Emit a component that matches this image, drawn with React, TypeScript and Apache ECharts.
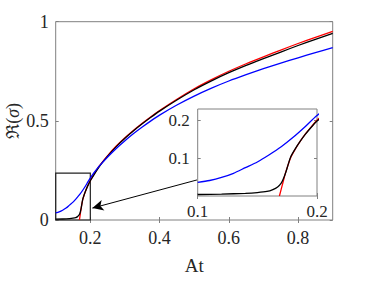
import React, { useEffect, useRef } from "react";
import * as echarts from "echarts";

const redAt = [0.1685, 0.171, 0.174, 0.178, 0.182, 0.186, 0.19, 0.195, 0.2, 0.225, 0.25, 0.275, 0.3, 0.325, 0.35, 0.375, 0.4, 0.45, 0.5, 0.55, 0.6, 0.65, 0.7, 0.75, 0.8, 0.85, 0.9];
const redVal = [0, 0.03, 0.065, 0.102, 0.125, 0.145, 0.163, 0.182, 0.2, 0.27, 0.325, 0.373, 0.415, 0.453, 0.488, 0.521, 0.552, 0.609, 0.662, 0.708, 0.75, 0.788, 0.823, 0.857, 0.89, 0.921, 0.951];

const blackAt = [0.1, 0.12, 0.14, 0.15, 0.158, 0.163, 0.167, 0.17, 0.172, 0.174, 0.176, 0.178, 0.182, 0.186, 0.19, 0.195, 0.2, 0.225, 0.25, 0.275, 0.3, 0.325, 0.35, 0.375, 0.4, 0.45, 0.5, 0.55, 0.6, 0.65, 0.7, 0.75, 0.8, 0.85, 0.9];
const blackVal = [0.004, 0.005, 0.007, 0.009, 0.012, 0.017, 0.024, 0.034, 0.047, 0.064, 0.085, 0.104, 0.126, 0.145, 0.162, 0.181, 0.198, 0.267, 0.322, 0.37, 0.412, 0.45, 0.485, 0.518, 0.549, 0.605, 0.657, 0.702, 0.743, 0.78, 0.814, 0.847, 0.88, 0.911, 0.941];

const blueAt = [0.1, 0.11, 0.12, 0.13, 0.14, 0.15, 0.16, 0.17, 0.18, 0.19, 0.2, 0.225, 0.25, 0.275, 0.3, 0.325, 0.35, 0.375, 0.4, 0.45, 0.5, 0.55, 0.6, 0.65, 0.7, 0.75, 0.8, 0.85, 0.9];
const blueVal = [0.036, 0.041, 0.049, 0.06, 0.075, 0.09, 0.109, 0.13, 0.155, 0.183, 0.213, 0.27, 0.318, 0.361, 0.4, 0.436, 0.469, 0.5, 0.529, 0.58, 0.625, 0.665, 0.701, 0.733, 0.763, 0.791, 0.818, 0.844, 0.869];

const mainXTicks = [0.2, 0.4, 0.6, 0.8];
const mainYTicks = [0, 0.5, 1];
const insetXTicks = [0.1, 0.2];
const insetYTicks = [0.1, 0.2];

const zoomBox = [[0.1, 0], [0.2, 0.236]];
const arrowFrom = [0.508, 0.202];
const arrowTo = [0.206, 0.06];

const FONT = "Liberation Serif";
const TXT = "#262626";
const AX = "#808080";

function pairs(xs: number[], ys: number[]) {
  return xs.map((x, i) => [x, ys[i]]);
}

export default function App() {
  const ref = useRef<HTMLDivElement>(null);
  useEffect(() => {
    document.body.style.margin = "0";
    const chart = echarts.init(ref.current!, null, { renderer: "svg" });
    const tickStyle = { show: true, inside: true, length: 3, lineStyle: { color: AX, width: 1 } };
    const lineSeries = (name: string, xs: number[], ys: number[], color: string, xi: number, yi: number, z: number, extra: any = {}) => ({
      type: "line",
      name,
      data: pairs(xs, ys),
      xAxisIndex: xi,
      yAxisIndex: yi,
      showSymbol: false,
      smooth: 0.25,
      clip: true,
      z,
      lineStyle: { color, width: 1.3 },
      ...extra,
    });
    const fmt = (v: number) => String(+v.toFixed(1));
    chart.setOption({
      animation: false,
      textStyle: { fontFamily: FONT },
      grid: [
        { left: 55.7, top: 21.7, right: 34.3, bottom: 72, show: true, borderColor: AX, borderWidth: 1, backgroundColor: "#fff", z: 0, containLabel: false, outerBoundsMode: "none" },
        { left: 197.7, top: 109, width: 119.3, height: 87, show: true, borderColor: AX, borderWidth: 1, backgroundColor: "#fff", z: 10, containLabel: false, outerBoundsMode: "none" },
      ],
      xAxis: [
        {
          type: "value", gridIndex: 0, min: 0.1, max: 0.9, position: "bottom",
          axisLine: { show: false }, splitLine: { show: false },
          axisTick: { ...tickStyle, customValues: mainXTicks },
          axisLabel: { customValues: mainXTicks, formatter: fmt, color: TXT, fontFamily: FONT, fontSize: 18, margin: 9 },
          name: "At", nameLocation: "middle", nameGap: 36, nameMoveOverlap: false,
          nameTextStyle: { color: TXT, fontFamily: FONT, fontSize: 19 },
        },
        {
          type: "value", gridIndex: 0, min: 0.1, max: 0.9, position: "top",
          axisLine: { show: false }, splitLine: { show: false },
          axisTick: { ...tickStyle, customValues: mainXTicks },
          axisLabel: { show: false },
        },
        {
          type: "value", gridIndex: 1, min: 0.1, max: 0.2, position: "bottom", z: 11,
          axisLine: { show: false }, splitLine: { show: false },
          axisTick: { ...tickStyle, customValues: insetXTicks },
          axisLabel: { customValues: insetXTicks, formatter: fmt, color: TXT, fontFamily: FONT, fontSize: 17, margin: 7 },
        },
        {
          type: "value", gridIndex: 1, min: 0.1, max: 0.2, position: "top", z: 11,
          axisLine: { show: false }, splitLine: { show: false },
          axisTick: { ...tickStyle, customValues: insetXTicks },
          axisLabel: { show: false },
        },
      ],
      yAxis: [
        {
          type: "value", gridIndex: 0, min: 0, max: 1, position: "left",
          axisLine: { show: false }, splitLine: { show: false },
          axisTick: { ...tickStyle, customValues: mainYTicks },
          axisLabel: { customValues: mainYTicks, formatter: fmt, color: TXT, fontFamily: FONT, fontSize: 18, margin: 7 },
          name: "ℜ({s|σ})", nameLocation: "middle", nameGap: 34, nameMoveOverlap: false,
          nameTextStyle: { color: TXT, fontFamily: FONT, fontSize: 18, rich: { s: { fontStyle: "italic", fontFamily: FONT, fontSize: 18, color: TXT } } },
        },
        {
          type: "value", gridIndex: 0, min: 0, max: 1, position: "right",
          axisLine: { show: false }, splitLine: { show: false },
          axisTick: { ...tickStyle, customValues: mainYTicks },
          axisLabel: { show: false },
        },
        {
          type: "value", gridIndex: 1, min: 0, max: 0.23, position: "left", z: 11,
          axisLine: { show: false }, splitLine: { show: false },
          axisTick: { ...tickStyle, customValues: insetYTicks },
          axisLabel: { customValues: insetYTicks, formatter: fmt, color: TXT, fontFamily: FONT, fontSize: 17, margin: 8 },
        },
        {
          type: "value", gridIndex: 1, min: 0, max: 0.23, position: "right", z: 11,
          axisLine: { show: false }, splitLine: { show: false },
          axisTick: { ...tickStyle, customValues: insetYTicks },
          axisLabel: { show: false },
        },
      ],
      series: [
        lineSeries("red", redAt, redVal, "#ff0000", 0, 0, 2, {
          markArea: {
            silent: true,
            itemStyle: { color: "rgba(0,0,0,0)", borderColor: "#222", borderWidth: 1.2 },
            data: [[{ coord: zoomBox[0] }, { coord: zoomBox[1] }]],
          },
        }),
        lineSeries("black", blackAt, blackVal, "#000000", 0, 0, 3, {
          markLine: {
            silent: true,
            symbol: ["none", "arrow"],
            symbolSize: [8, 11],
            label: { show: false },
            lineStyle: { color: "#000", width: 1, type: "solid" },
            data: [[{ coord: arrowFrom }, { coord: arrowTo }]],
          },
        }),
        lineSeries("blue", blueAt, blueVal, "#0000ff", 0, 0, 4),
        lineSeries("red-inset", redAt, redVal, "#ff0000", 2, 2, 12),
        lineSeries("black-inset", blackAt, blackVal, "#000000", 2, 2, 13),
        lineSeries("blue-inset", blueAt, blueVal, "#0000ff", 2, 2, 14),
      ],
    });
    return () => chart.dispose();
  }, []);
  return <div ref={ref} style={{ width: 367, height: 292 }} />;
}
